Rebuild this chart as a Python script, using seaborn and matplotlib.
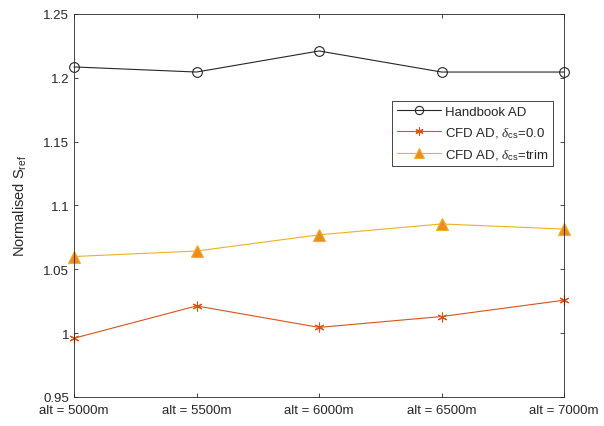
import numpy as np
import pandas as pd
import matplotlib
matplotlib.use('Agg')
import matplotlib.pyplot as plt
import seaborn as sns

altitudes = ['alt = 5000m', 'alt = 5500m', 'alt = 6000m', 'alt = 6500m', 'alt = 7000m']
handbook_ad = [1.2085, 1.2045, 1.2210, 1.2045, 1.2045]
cfd_ad_zero = [0.9960, 1.0213, 1.0045, 1.0130, 1.0258]
cfd_ad_trim = [1.0600, 1.0643, 1.0770, 1.0855, 1.0815]

sns.set_style('ticks')
plt.rcParams['font.family'] = ['Liberation Sans', 'DejaVu Sans']
plt.rcParams['mathtext.fontset'] = 'custom'
plt.rcParams['mathtext.it'] = 'Liberation Serif:italic'
plt.rcParams['mathtext.rm'] = 'Liberation Sans'

pos = np.arange(len(altitudes))
df = pd.DataFrame({'pos': pos, 'hb': handbook_ad, 'c0': cfd_ad_zero, 'ct': cfd_ad_trim})

fig = plt.figure(figsize=(6.04, 4.27), dpi=100)
ax = fig.add_axes([0.1225, 0.068, 0.8115, 0.897])

sns.lineplot(data=df, x='pos', y='hb', ax=ax, color='#262626', linewidth=0.8,
             marker='o', markersize=7, markerfacecolor='none', markeredgecolor='#262626',
             markeredgewidth=0.8, label='Handbook AD', clip_on=False)
sns.lineplot(data=df, x='pos', y='c0', ax=ax, color='#D95319', linewidth=0.8,
             marker=(6, 2, 0), markersize=7, markeredgecolor='#D95319',
             markeredgewidth=0.8, label=r'CFD AD, $\delta_{\mathrm{cs}}$=0.0', clip_on=False)
sns.lineplot(data=df, x='pos', y='ct', ax=ax, color='#EDB120', linewidth=0.8,
             marker='^', markersize=8, markerfacecolor='#EE8A22', markeredgecolor='#EDB120',
             markeredgewidth=0.8, label=r'CFD AD, $\delta_{\mathrm{cs}}$=trim', clip_on=False)

ax.set_xlim(0, len(altitudes) - 1)
ax.set_ylim(0.95, 1.25)
ax.set_xticks(pos)
ax.set_xticklabels(altitudes)
ax.set_yticks([0.95, 1.0, 1.05, 1.1, 1.15, 1.2, 1.25])
ax.set_yticklabels(['0.95', '1', '1.05', '1.1', '1.15', '1.2', '1.25'])
ax.set_xlabel('')
ax.set_ylabel(r'Normalised S$_{\mathrm{ref}}$', fontsize=10.5, labelpad=10)
ax.tick_params(direction='in', top=True, right=True, labelsize=9.5, color='#262626',
               labelcolor='#262626', length=3, width=0.6)
ax.tick_params(axis='x', pad=5)
for s in ax.spines.values():
    s.set_visible(True)
    s.set_color('#262626')
    s.set_linewidth(0.6)

leg = ax.legend(loc='upper right', bbox_to_anchor=(0.99, 0.79), fontsize=9.5,
                frameon=True, fancybox=False, edgecolor='#262626', framealpha=1,
                borderpad=0.35, handlelength=3.4, labelspacing=0.55, handletextpad=0.25,
                markerscale=0.85)
leg.get_frame().set_linewidth(0.6)

fig.savefig('out.png', dpi=100)
